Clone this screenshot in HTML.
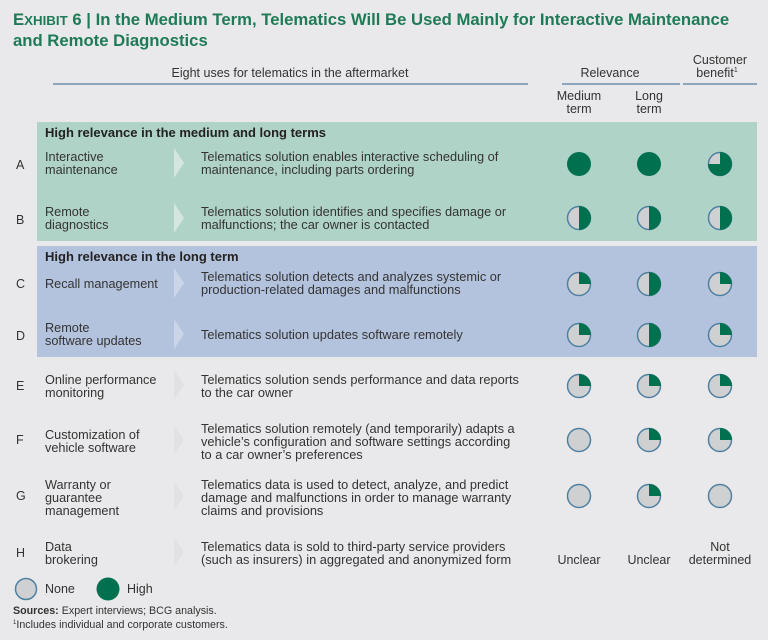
<!DOCTYPE html>
<html><head><meta charset="utf-8"><style>
html,body{margin:0;padding:0;background:#e9e9eb;}
svg{display:block;font-family:"Liberation Sans",sans-serif;}
</style></head><body>
<svg width="768" height="640" viewBox="0 0 768 640" xmlns="http://www.w3.org/2000/svg">
<defs>
<g id="none"><circle r="11.5" fill="#cfd0d2" stroke="#4f80a2" stroke-width="1.5"/></g>
<g id="q"><circle r="11.5" fill="#cfd0d2" stroke="#4f80a2" stroke-width="1.5"/><path d="M0 0L0 -12A12 12 0 0 1 12 0Z" fill="#00704f"/></g>
<g id="h"><circle r="11.5" fill="#cfd0d2" stroke="#4f80a2" stroke-width="1.5"/><path d="M0 -12A12 12 0 0 1 0 12Z" fill="#00704f"/></g>
<g id="t"><circle r="11.5" fill="#cfd0d2" stroke="#4f80a2" stroke-width="1.5"/><path d="M0 0L0 -12A12 12 0 1 1 -12 0Z" fill="#00704f"/></g>
<g id="f"><circle r="12" fill="#00704f"/></g>
<path id="chev" d="M0 0L10 15L0 30Z"/>
</defs>
<rect width="768" height="640" fill="#e9e9eb"/>
<g fill="#1f7a57" font-weight="bold" font-size="16.7">
<text x="13" y="25"><tspan>E</tspan><tspan font-size="13.3">XHIBIT</tspan> 6 | In the Medium Term, Telematics Will Be Used Mainly for Interactive Maintenance</text>
<text x="13" y="46">and Remote Diagnostics</text>
</g>
<g fill="#333" font-size="12.5" text-anchor="middle">
<text x="290" y="77">Eight uses for telematics in the aftermarket</text>
<text x="610" y="77">Relevance</text>
<text x="720" y="64">Customer</text>
<text x="717" y="77">benefit<tspan font-size="7" dy="-5">1</tspan></text>
<text x="579" y="100">Medium</text><text x="579" y="113">term</text>
<text x="649" y="100">Long</text><text x="649" y="113">term</text>
</g>
<g stroke="#6f8fb1" stroke-width="1.5">
<line x1="53" y1="84" x2="528" y2="84"/>
<line x1="562" y1="84" x2="680" y2="84"/>
<line x1="683" y1="84" x2="757" y2="84"/>
</g>
<rect x="37" y="122" width="720" height="119" fill="#b0d3c8"/>
<rect x="37" y="246" width="720" height="111" fill="#b4c3dd"/>
<g fill="#222" font-size="13" font-weight="bold">
<text x="45" y="137">High relevance in the medium and long terms</text>
<text x="45" y="261">High relevance in the long term</text>
</g>
<g fill="#d5e6e0"><use href="#chev" x="174" y="148"/><use href="#chev" x="174" y="203"/></g>
<g fill="#cbd5e8"><use href="#chev" x="174" y="268"/><use href="#chev" x="174" y="319"/></g>
<g fill="#e1e1e3"><use href="#chev" x="174" y="370"/><use href="#chev" x="174" y="425"/><use href="#chev" x="174" y="481"/><use href="#chev" x="174" y="537"/></g>
<g fill="#333" font-size="12.5">
<text x="16" y="169">A</text><text x="16" y="224">B</text><text x="16" y="288">C</text><text x="16" y="340">D</text>
<text x="16" y="390">E</text><text x="16" y="444">F</text><text x="16" y="500">G</text><text x="16" y="557">H</text>
</g>
<g fill="#333" font-size="12.7">
<text x="45" y="161">Interactive</text><text x="45" y="174">maintenance</text>
<text x="45" y="216">Remote</text><text x="45" y="229">diagnostics</text>
<text x="45" y="288">Recall management</text>
<text x="45" y="332">Remote</text><text x="45" y="345">software updates</text>
<text x="45" y="384">Online performance</text><text x="45" y="397">monitoring</text>
<text x="45" y="439">Customization of</text><text x="45" y="452">vehicle software</text>
<text x="45" y="489">Warranty or</text><text x="45" y="502">guarantee</text><text x="45" y="515">management</text>
<text x="45" y="551">Data</text><text x="45" y="564">brokering</text>
</g>
<g fill="#333" font-size="12.8">
<text x="201" y="161">Telematics solution enables interactive scheduling of</text><text x="201" y="174">maintenance, including parts ordering</text>
<text x="201" y="216">Telematics solution identifies and specifies damage or</text><text x="201" y="229">malfunctions; the car owner is contacted</text>
<text x="201" y="281">Telematics solution detects and analyzes systemic or</text><text x="201" y="294">production-related damages and malfunctions</text>
<text x="201" y="339">Telematics solution updates software remotely</text>
<text x="201" y="384">Telematics solution sends performance and data reports</text><text x="201" y="397">to the car owner</text>
<text x="201" y="433">Telematics solution remotely (and temporarily) adapts a</text><text x="201" y="446">vehicle’s configuration and software settings according</text><text x="201" y="459">to a car owner’s preferences</text>
<text x="201" y="489">Telematics data is used to detect, analyze, and predict</text><text x="201" y="502">damage and malfunctions in order to manage warranty</text><text x="201" y="515">claims and provisions</text>
<text x="201" y="551">Telematics data is sold to third-party service providers</text><text x="201" y="564">(such as insurers) in aggregated and anonymized form</text>
</g>
<use href="#f" x="579" y="164"/><use href="#f" x="649" y="164"/><use href="#t" x="720" y="164"/>
<use href="#h" x="579" y="218"/><use href="#h" x="649" y="218"/><use href="#h" x="720" y="218"/>
<use href="#q" x="579" y="284"/><use href="#h" x="649" y="284"/><use href="#q" x="720" y="284"/>
<use href="#q" x="579" y="335"/><use href="#h" x="649" y="335"/><use href="#q" x="720" y="335"/>
<use href="#q" x="579" y="386"/><use href="#q" x="649" y="386"/><use href="#q" x="720" y="386"/>
<use href="#none" x="579" y="440"/><use href="#q" x="649" y="440"/><use href="#q" x="720" y="440"/>
<use href="#none" x="579" y="496"/><use href="#q" x="649" y="496"/><use href="#none" x="720" y="496"/>
<g fill="#333" font-size="12.5" text-anchor="middle">
<text x="579" y="564">Unclear</text><text x="649" y="564">Unclear</text>
<text x="720" y="551">Not</text><text x="720" y="564">determined</text>
</g>
<circle cx="26" cy="589" r="10.5" fill="#cfd0d2" stroke="#4f80a2" stroke-width="1.5"/>
<circle cx="108" cy="589" r="11.5" fill="#00704f"/>
<g fill="#333" font-size="12.5"><text x="45" y="593">None</text><text x="127" y="593">High</text></g>
<g fill="#333" font-size="10.7">
<text x="13" y="614"><tspan font-weight="bold">Sources:</tspan> Expert interviews; BCG analysis.</text>
<text x="13" y="628"><tspan font-size="6" dy="-4">1</tspan><tspan dy="4">Includes individual and corporate customers.</tspan></text>
</g>
</svg>
</body></html>
